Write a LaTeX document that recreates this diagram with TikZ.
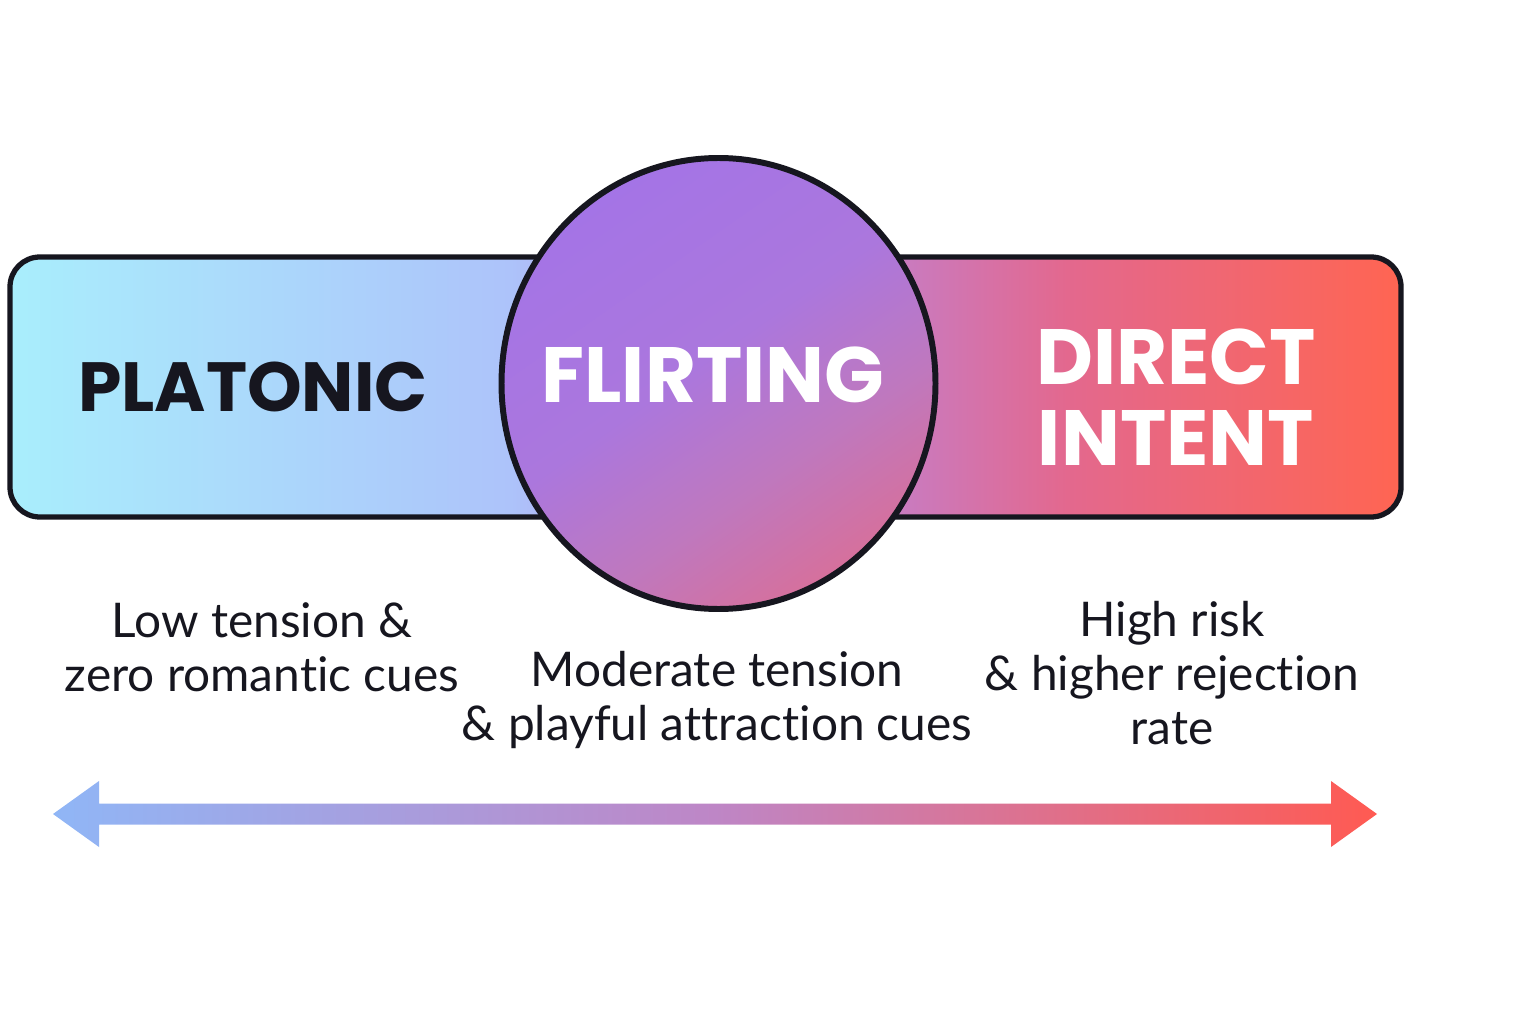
\documentclass[tikz,border=0pt]{standalone}
\usepackage{fontspec}
\setmainfont{Lato}[Ligatures=NoCommon]
\newfontfamily\headfont{Poppins}
\usetikzlibrary{positioning}
\definecolor{ink}{HTML}{16161F}
\definecolor{cyanL}{HTML}{A9EEFC}
\definecolor{blueL}{HTML}{ADC3FA}
\definecolor{lilac}{HTML}{B58BE8}
\definecolor{pinkM}{HTML}{C97BC0}
\definecolor{rose}{HTML}{E3688E}
\definecolor{redR}{HTML}{FF6552}
\definecolor{purpD}{HTML}{A474E6}
\definecolor{purpM}{HTML}{AB77DD}
\definecolor{mauve}{HTML}{BF78BE}
\definecolor{pinkD}{HTML}{D6709C}
\definecolor{arrB}{HTML}{90B6F6}
\definecolor{arrM}{HTML}{BE86C6}
\definecolor{arrR}{HTML}{FF5A52}
\pgfdeclarehorizontalshading{barshade}{100bp}{color(0bp)=(cyanL); color(25bp)=(cyanL); color(43bp)=(blueL); color(50bp)=(lilac); color(57bp)=(pinkM); color(63bp)=(rose); color(75bp)=(redR); color(100bp)=(redR)}
\pgfdeclarehorizontalshading{discshade}{100bp}{color(0bp)=(purpD); color(25bp)=(purpD); color(47bp)=(purpM); color(62bp)=(mauve); color(75bp)=(pinkD); color(100bp)=(pinkD)}
\pgfdeclarehorizontalshading{arrowshade}{100bp}{color(0bp)=(arrB); color(25bp)=(arrB); color(50bp)=(arrM); color(75bp)=(arrR); color(100bp)=(arrR)}
\tikzset{
  title/.style={font=\headfont\bfseries\fontsize{22.3}{23.2}\selectfont, align=center},
  cue/.style={font=\fontsize{13.6}{15.3}\selectfont, text=ink, align=center},
}
\begin{document}
\begin{tikzpicture}
\useasboundingbox (0,0) rectangle (15.36,10.24);
% band and disc
\draw[line width=1.5pt, draw=ink, rounded corners=8.5pt, shading=barshade] (0.10,5.07) rectangle (14.01,7.67);
\draw[line width=1.7pt, draw=ink, shading=discshade, shading angle=-55] (7.185,6.405) ellipse [x radius=2.17, y radius=2.255];
\node[title, text=ink, font=\headfont\bfseries\fontsize{19.8}{23}\selectfont] (platonic) at (2.53,6.37) {PLATONIC};
\node[title, text=white] (flirting) at (7.13,6.49) {FLIRTING};
\node[title, text=white] (direct) at (11.76,6.27) {DIRECT\\INTENT};
% cues
\node[cue] (low) at (2.62,3.77) {Low tension \&\\zero romantic cues};
\node[cue] (mod) at (7.17,3.24) {Moderate tension\\\& playful attraction cues};
\node[cue] (high) at (11.72,3.51) {High risk\\\& higher rejection\\rate};
% scale arrow
\coordinate (arrL) at (0.53,2.10);
\coordinate (arrR) at (13.77,2.10);
\path[shading=arrowshade] (arrL) -- ++(0.46,0.33) -- ++(0,-0.225) -- ++(12.32,0) -- ++(0,0.225) -- (arrR)
  -- ++(-0.46,-0.33) -- ++(0,0.225) -- ++(-12.32,0) -- ++(0,-0.225) -- cycle;
\end{tikzpicture}
\end{document}
